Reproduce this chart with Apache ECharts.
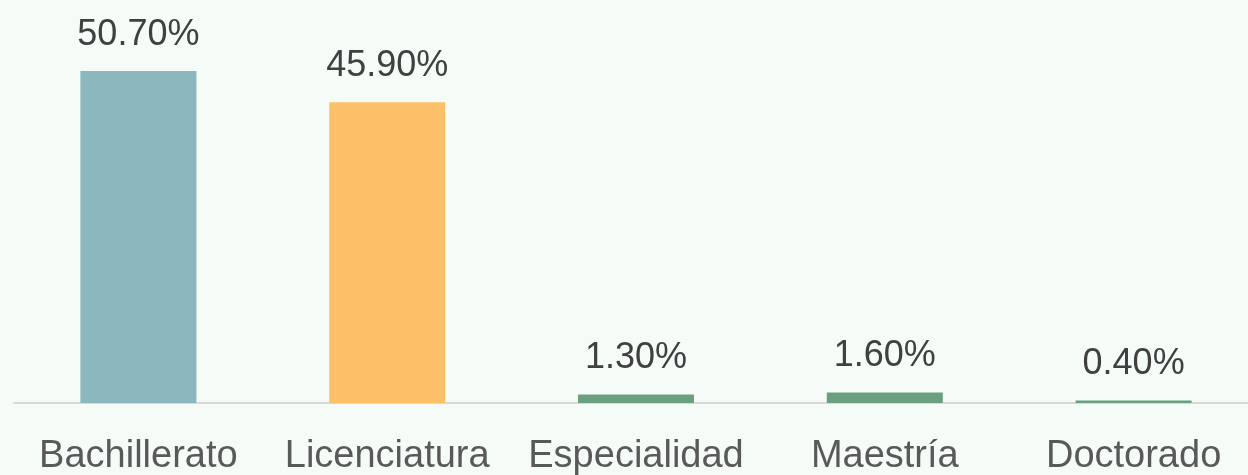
<!DOCTYPE html>
<html>
<head>
<meta charset="utf-8">
<script src="https://cdn.jsdelivr.net/npm/echarts@6/dist/echarts.min.js"></script>
<style>
html,body{margin:0;padding:0;background:#F5FCF8;}
#c{width:1248px;height:475px;}
</style>
</head>
<body>
<div id="c"></div>
<script>
const categories = ['Bachillerato', 'Licenciatura', 'Especialidad', 'Maestría', 'Doctorado'];
const values = [50.7, 45.9, 1.3, 1.6, 0.4];
const colors = ['#8CB7BE', '#FCC168', '#6A9F7F', '#6A9F7F', '#6A9F7F'];

const chart = echarts.init(document.getElementById('c'));
chart.setOption({
  backgroundColor: '#F5FCF8',
  animation: false,
  grid: {left: 14, width: 1244, top: 10, height: 393, containLabel: false, outerBoundsMode: 'none'},
  xAxis: {
    type: 'category',
    data: categories,
    axisLine: {lineStyle: {color: '#D9D9D9', width: 2}},
    axisTick: {show: false},
    axisLabel: {color: '#595959', fontSize: 38, fontFamily: 'Liberation Sans, Arial', margin: 35, interval: 0}
  },
  yAxis: {type: 'value', min: 0, max: 60, show: false, splitLine: {show: false}},
  series: [{
    type: 'bar',
    barWidth: 116,
    data: values.map((v, i) => ({value: v, itemStyle: {color: colors[i]}})),
    label: {
      show: true, position: 'top', distance: 18,
      color: '#404040', fontSize: 36, fontFamily: 'Liberation Sans, Arial',
      formatter: p => p.value.toFixed(2) + '%'
    }
  }]
});
</script>
</body>
</html>
